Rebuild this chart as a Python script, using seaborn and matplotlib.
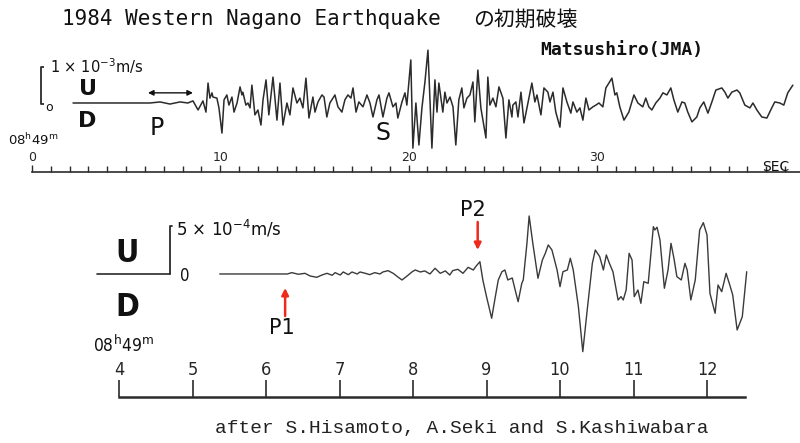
import matplotlib
matplotlib.use("Agg")
import matplotlib.pyplot as plt
import seaborn as sns
import numpy as np
import pandas as pd

# ---------------- data ----------------
TITLE_EN = "1984 Western Nagano Earthquake"
TITLE_JA = "の初期破壊"
STATION = "Matsushiro(JMA)"
CREDIT = "after S.Hisamoto, A.Seki and S.Kashiwabara"

# upper record: time [s after 08h49m], vertical velocity [1e-3 m/s]
top_time = [2.18, 6.27, 6.80, 7.33, 7.86, 8.28, 8.55, 8.82, 9.08, 9.24, 9.35, 9.45, 9.56, 9.61, 9.82, 9.93,
            10.09, 10.20, 10.35, 10.46, 10.62, 10.73, 10.89, 11.05, 11.15, 11.20, 11.36, 11.47, 11.58, 11.68,
            11.84, 12.00, 12.16, 12.27, 12.43, 12.58, 12.80, 13.01, 13.17, 13.33, 13.54, 13.70, 13.86, 14.07,
            14.23, 14.39, 14.55, 14.71, 14.92, 15.03, 15.19, 15.40, 15.51, 15.66, 15.82, 16.09, 16.25, 16.46,
            16.62, 16.78, 16.94, 17.05, 17.21, 17.36, 17.58, 17.79, 17.95, 18.11, 18.32, 18.43, 18.64, 18.85,
            18.96, 19.17, 19.33, 19.43, 19.65, 19.81, 19.91, 20.12, 20.23, 20.39, 20.55, 20.71, 20.87, 21.03,
            21.24, 21.40, 21.51, 21.61, 21.82, 21.93, 22.04, 22.20, 22.36, 22.51, 22.67, 22.83, 22.94, 23.10,
            23.26, 23.42, 23.52, 23.68, 23.84, 23.95, 24.11, 24.21, 24.32, 24.48, 24.64, 24.80, 25.01, 25.17,
            25.33, 25.49, 25.54, 25.70, 25.81, 25.97, 26.13, 26.34, 26.55, 26.71, 26.82, 27.03, 27.19, 27.40,
            27.51, 27.67, 27.82, 28.04, 28.20, 28.41, 28.62, 28.73, 28.94, 29.10, 29.26, 29.42, 29.58, 29.79,
            29.95, 30.11, 30.32, 30.48, 30.80, 30.96, 31.06, 31.22, 31.44, 31.70, 31.97, 32.18, 32.44, 32.60,
            32.76, 32.92, 33.13, 33.35, 33.51, 33.72, 33.93, 34.09, 34.30, 34.52, 34.67, 34.83, 35.05, 35.31,
            35.47, 35.68, 35.90, 36.11, 36.32, 36.64, 36.80, 36.96, 37.17, 37.44, 37.59, 37.86, 38.13, 38.29,
            38.50, 38.76, 39.03, 39.29, 39.45, 39.72, 39.93, 40.14, 40.41]
top_vel = [0, 0, 0.03, -0.03, 0.03, 0, 0.06, -0.20, 0.06, -0.26, 0.57, 0.14, 0.29, 0.17, 0.14, -0.14,
           -0.86, 0.09, 0.23, -0.06, 0.17, -0.26, 0, 0.46, 0.23, 0.31, -0.06, 0, -0.14, 0.51,
           -0.34, -0.20, -0.63, 0.09, 0.66, -0.34, 0.74, -0.49, 0.57, -0.63, 0, -0.34, 0.43, 0,
           0.14, -0.14, 0.71, -0.43, 0.17, -0.26, 0.03, 0.23, 0.17, -0.40, 0, 0.23, -0.11, -0.26,
           0.09, 0.23, 0.14, 0.43, -0.26, 0.03, -0.11, 0.23, 0, -0.40, 0.09, 0.23, -0.40, 0.14,
           0.29, -0.11, 0, -0.43, 0.03, 0.29, -0.06, 1.23, -1.29, 0, -1.20, -0.14, 0.60, 1.51,
           -1.29, 0.66, -0.26, 0.57, -0.26, 0.31, 0, 0.17, -0.11, -1.20, 0.09, 0.43, -0.14, 0.14,
           0.23, 0.60, -0.54, 0.94, -0.14, -0.49, -1.00, 0.74, -0.06, 0.14, -0.11, 0.46, 0.14, -1.00,
           0.09, -0.40, -0.06, 0.03, -0.40, 0.31, -0.57, 0, 0.57, 0.03, 0.23, -0.34, 0.43, 0.31,
           0.03, 0.31, -0.26, -0.69, 0.43, 0.03, -0.29, 0.03, -0.26, -0.14, -0.49, 0.14, -0.20, -0.11,
           -0.06, 0, -0.11, 0.43, 0.71, 0.23, 0.29, -0.11, -0.49, -0.26, 0.23, 0, -0.11, 0.14,
           -0.11, -0.20, 0, 0.14, 0.29, 0.23, 0.43, 0.09, -0.26, 0.03, 0, -0.26, -0.54, -0.40,
           -0.14, 0.03, -0.29, 0.03, 0.37, 0.43, 0.31, 0.14, 0.31, 0.37, 0.29, -0.06, -0.14, 0,
           -0.20, -0.40, -0.43, -0.14, 0.03, 0, -0.06, 0.29, 0.51]

# lower record (zoom): time [s after 08h49m], vertical velocity [1e-4 m/s]
bot_time = [5.37, 6.29, 6.35, 6.44, 6.53, 6.60, 6.69, 6.76, 6.83, 6.90, 6.94, 7.01, 7.05, 7.12, 7.17, 7.24,
            7.28, 7.35, 7.41, 7.48, 7.55, 7.59, 7.66, 7.73, 7.80, 7.85, 7.92, 7.99, 8.03, 8.10, 8.16, 8.23,
            8.30, 8.37, 8.44, 8.50, 8.54, 8.61, 8.68, 8.75, 8.82, 8.86, 8.91, 8.95, 9.00, 9.07, 9.12, 9.16,
            9.21, 9.25, 9.29, 9.35, 9.39, 9.43, 9.48, 9.50, 9.55, 9.58, 9.63, 9.70, 9.76, 9.80, 9.84, 9.89,
            9.96, 10.00, 10.04, 10.10, 10.14, 10.18, 10.25, 10.31, 10.37, 10.44, 10.48, 10.54, 10.59, 10.63,
            10.67, 10.72, 10.79, 10.83, 10.86, 10.90, 10.94, 10.98, 11.01, 11.06, 11.10, 11.14, 11.20, 11.27,
            11.29, 11.32, 11.36, 11.42, 11.47, 11.51, 11.55, 11.59, 11.65, 11.70, 11.73, 11.78, 11.84, 11.90,
            11.95, 12.00, 12.04, 12.11, 12.15, 12.20, 12.26, 12.31, 12.35, 12.41, 12.48, 12.54]
bot_vel = [0, 0, 0.14, -0.03, 0.07, -0.21, -0.35, -0.11, 0.07, -0.14, 0.14, -0.11, 0.21, -0.07, 0.21, 0,
           0.21, 0.07, -0.07, 0.14, 0, 0.21, 0.35, 0.07, -0.35, -0.63, -0.21, 0.24, 0.42, 0.21, 0.32, 0,
           0.60, 0.07, 0.32, -0.11, 0.35, 0.49, 0.07, 0.70, 0.42, 0.84, 1.29, -0.63, -2.38, -4.65, -2.38, -0.63,
           0.24, 0.42, -0.63, -0.42, -1.68, -2.91, -0.98, -0.63, 3.22, 6.09, 3.22, -0.45, 1.47, 2.17, 3.05, 2.52,
           0.42, -1.33, 0.24, 0.42, 1.65, 0.42, -3.43, -8.16, -3.78, 1.12, 2.52, 1.82, 0.42, 2.00,
           1.16, 0.24, -2.73, -2.38, -2.73, -1.68, 2.17, 1.47, -2.38, -1.68, -3.08, -0.81, -0.98, 4.97,
           4.62, 4.91, 3.57, -1.50, 0.42, 3.22, 1.65, -0.28, -0.63, 1.12, 0.42, -2.73, -0.63, 4.62,
           5.39, 4.10, -2.03, -4.13, -1.16, -1.86, 0.07, -1.16, -2.21, -5.88, -4.49, 0.24]

top_major = [0, 10, 20, 30]
top_minor = list(range(0, 41))
bot_ticks = [4, 5, 6, 7, 8, 9, 10, 11, 12]

SCALE_TOP = 1.0      # 1 x 10^-3 m/s
SCALE_BOT = 5.0      # 5 x 10^-4 m/s
P_ARROW = (6.16, 8.55)      # P window (s)
P1_TIME, P2_TIME = 6.26, 8.88

# ---------------- figure ----------------
sns.set_theme(style="white")
plt.rcParams["font.family"] = ["DejaVu Sans", "Noto Sans CJK JP"]

W, H = 800, 443
fig = plt.figure(figsize=(W / 100, H / 100), dpi=100)
fig.patch.set_facecolor("white")


def box(x0, x1, y0, y1):
    """pixel box -> figure fraction [left, bottom, width, height]"""
    return [x0 / W, 1 - y1 / H, (x1 - x0) / W, (y1 - y0) / H]


TRACE = "#2b2b2b"
RED = "#ee2a1c"
NARROW = dict(family="DejaVu Sans", stretch="condensed")

# ---- upper trace ----
ax1 = fig.add_axes(box(10, 800, 40, 160))
ax1.set_xlim(-1.168, 40.79)
ax1.set_ylim(-1.629, 1.8)
df_top = pd.DataFrame({"t": top_time, "v": top_vel})
sns.lineplot(data=df_top, x="t", y="v", ax=ax1, color=TRACE, lw=1.1,
             sort=False, estimator=None)
ax1.set_axis_off()
# scale bracket
ax1.plot([0.64, 0.48, 0.48, 0.64], [SCALE_TOP * 1.03, SCALE_TOP * 1.03, -0.03, -0.03],
         color=TRACE, lw=1.3, solid_capstyle="butt")
ax1.text(0.95, SCALE_TOP * 1.06, r"1 × 10$^{-3}$m/s", fontsize=10.5, ha="left", va="center",
         color="#111")
ax1.text(0.9, -0.14, "o", fontsize=9, ha="center", va="center", color="#111")
ax1.text(2.95, 0.40, "U", fontsize=16, fontweight="bold", ha="center", va="center", color="#111")
ax1.text(2.95, -0.52, "D", fontsize=16, fontweight="bold", ha="center", va="center", color="#111")
ax1.text(6.6, -0.72, "P", fontsize=17, ha="center", va="center", color="#111")
ax1.text(18.64, -0.86, "S", fontsize=17, ha="center", va="center", color="#111")
ax1.annotate("", xy=(P_ARROW[1], 0.29), xytext=(P_ARROW[0], 0.29),
             arrowprops=dict(arrowstyle="<|-|>", lw=1.0, color="#111", mutation_scale=8,
                             shrinkA=0, shrinkB=0))

# ---- upper time scale ----
axs1 = fig.add_axes(box(32, 800, 172, 176))
axs1.set_xlim(0, 40.79)
axs1.set_facecolor("none")
for s in ["left", "right", "bottom"]:
    axs1.spines[s].set_visible(False)
axs1.spines["top"].set_color(TRACE)
axs1.spines["top"].set_linewidth(1.2)
axs1.set_yticks([])
axs1.set_xticks(top_major)
axs1.set_xticks(top_minor, minor=True)
axs1.set_xticklabels([str(v) for v in top_major])
axs1.tick_params(axis="x", which="both", top=True, bottom=False, labeltop=True,
                 labelbottom=False, direction="out", color=TRACE, width=1.0)
axs1.tick_params(axis="x", which="major", length=5, pad=1, labelsize=9)
axs1.tick_params(axis="x", which="minor", length=4)
fig.text(776 / W, 1 - 167 / H, "SEC", fontsize=10, ha="center", va="center", color="#111")
fig.text(8 / W, 1 - 140 / H, r"08$^{\rm h}$49$^{\rm m}$", fontsize=9.5, ha="left",
         va="center", color="#111")

# ---- lower trace ----
ax2 = fig.add_axes(box(90, 760, 190, 365))
ax2.set_xlim(3.605, 12.721)
ax2.set_ylim(-9.56, 8.82)
df_bot = pd.DataFrame({"t": bot_time, "v": bot_vel})
sns.lineplot(data=df_bot, x="t", y="v", ax=ax2, color="#3a3a3a", lw=1.0,
             sort=False, estimator=None)
ax2.set_axis_off()
# zero line between U and D and the scale bar
ax2.plot([3.70, 4.69], [0, 0], color=TRACE, lw=1.2)
ax2.plot([4.72, 4.69, 4.69], [SCALE_BOT, SCALE_BOT, 0], color=TRACE, lw=1.3)
ax2.text(4.83, -0.25, "0", fontsize=12, ha="left", va="center", color="#111", **NARROW)
ax2.text(4.78, SCALE_BOT * 0.95, r"5 × 10$^{-4}$m/s", fontsize=12, ha="left", va="center",
         color="#111")
ax2.text(4.11, 2.2, "U", fontsize=23, fontweight="bold", ha="center",
         va="center", color="#111", **NARROW)
ax2.text(4.11, -3.5, "D", fontsize=23, fontweight="bold", ha="center",
         va="center", color="#111", **NARROW)
# P1 / P2 arrows
ax2.annotate("", xy=(P1_TIME, -1.47), xytext=(P1_TIME, -4.41),
             arrowprops=dict(arrowstyle="-|>", lw=1.8, color=RED, mutation_scale=10,
                             shrinkA=0, shrinkB=0))
ax2.annotate("", xy=(P2_TIME, 2.52), xytext=(P2_TIME, 5.46),
             arrowprops=dict(arrowstyle="-|>", lw=1.8, color=RED, mutation_scale=10,
                             shrinkA=0, shrinkB=0))
ax2.text(P1_TIME - 0.05, -5.7, "P1", fontsize=15, ha="center", va="center", color="#111")
ax2.text(P2_TIME - 0.07, 6.75, "P2", fontsize=15, ha="center", va="center", color="#111")

# ---- lower time scale ----
axs2 = fig.add_axes(box(119, 745, 397, 400))
axs2.set_xlim(4, 12.517)
axs2.set_facecolor("none")
for s in ["left", "right", "bottom"]:
    axs2.spines[s].set_visible(False)
axs2.spines["top"].set_color(TRACE)
axs2.spines["top"].set_linewidth(1.8)
axs2.set_yticks([])
axs2.set_xticks(bot_ticks)
axs2.set_xticklabels([str(v) for v in bot_ticks], **NARROW)
axs2.tick_params(axis="x", which="major", top=True, bottom=False, labeltop=True,
                 labelbottom=False, direction="out", length=12, width=1.2, pad=1,
                 labelsize=13, color=TRACE)
fig.text(93 / W, 1 - 345 / H, r"08$^{\rm h}$49$^{\rm m}$", fontsize=12.5,
         ha="left", va="center", color="#111", **NARROW)

# ---- titles / credits ----
fig.text(62 / W, 1 - 19 / H, TITLE_EN, fontsize=15, family="DejaVu Sans Mono",
         ha="left", va="center", color="#111")
fig.text(473 / W, 1 - 20 / H, TITLE_JA, fontsize=15, family="Noto Sans CJK JP",
         ha="left", va="center", color="#111")
fig.text(540 / W, 1 - 50 / H, STATION, fontsize=13, family="DejaVu Sans Mono",
         fontweight="bold", ha="left", va="center", color="#111")
fig.text(215 / W, 1 - 428 / H, CREDIT, fontsize=14, family="Liberation Mono",
         ha="left", va="center", color="#222")

fig.savefig("out.png", dpi=100, facecolor="white")
